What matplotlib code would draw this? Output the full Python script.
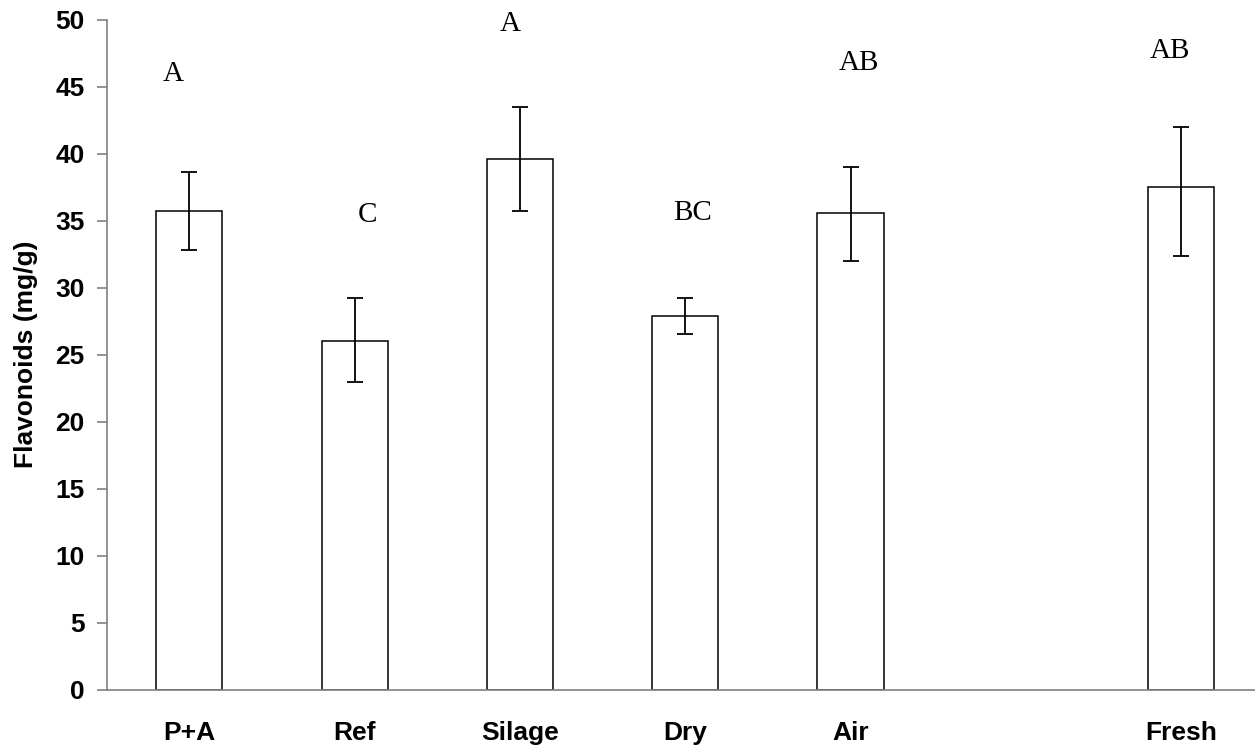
import numpy as np
import matplotlib
matplotlib.use("Agg")
import matplotlib.pyplot as plt

categories = ["P+A", "Ref", "Silage", "Dry", "Air", "Fresh"]
slots = [0, 1, 2, 3, 4, 6]          # empty slot between Air and Fresh
flavonoids = [35.7, 26.05, 39.6, 27.9, 35.55, 37.5]
err_low = [2.9, 3.1, 3.9, 1.35, 3.55, 5.1]
err_high = [2.95, 3.15, 3.9, 1.35, 3.5, 4.5]
letters = ["A", "C", "A", "BC", "AB", "AB"]
letter_y = [46.0, 35.4, 49.7, 35.6, 46.8, 47.7]
letter_dx = [-0.095, 0.08, -0.06, 0.045, 0.05, -0.065]

fig = plt.figure(figsize=(12.55, 7.48), dpi=100)
ax = fig.add_axes([0.085, 0.0782, 0.915, 0.8951])

ax.bar(slots, flavonoids, width=0.4, color="white", edgecolor="black", linewidth=1.1, zorder=2)
ax.errorbar(slots, flavonoids, yerr=[err_low, err_high], fmt="none", ecolor="black",
            elinewidth=1.3, capsize=6, capthick=1.3, zorder=3)

for s, lab, ly, dx in zip(slots, letters, letter_y, letter_dx):
    ax.text(s + dx, ly, lab, ha="center", va="center", fontsize=21,
            family="Liberation Serif")

ax.set_xlim(-0.5, 6.447)
ax.set_ylim(0, 50)
ax.set_yticks(np.arange(0, 51, 5))
ax.set_xticks(slots)
ax.set_xticklabels(categories)

for sp in ["top", "right"]:
    ax.spines[sp].set_visible(False)
for sp in ["left", "bottom"]:
    ax.spines[sp].set_color("#808080")
    ax.spines[sp].set_linewidth(1.2)

ax.tick_params(axis="y", direction="out", length=7, width=1.2, color="#808080", pad=9)
ax.tick_params(axis="x", length=0, pad=23)
for t in ax.get_yticklabels():
    t.set_fontsize(19)
    t.set_fontweight("bold")
    t.set_family("Liberation Sans")
for t in ax.get_xticklabels():
    t.set_fontsize(19)
    t.set_fontweight("bold")
    t.set_family("Liberation Sans")

ax.set_ylabel("Flavonoids (mg/g)", fontsize=19, fontweight="bold", family="Liberation Sans", labelpad=12)

fig.savefig("out.png", dpi=100)
